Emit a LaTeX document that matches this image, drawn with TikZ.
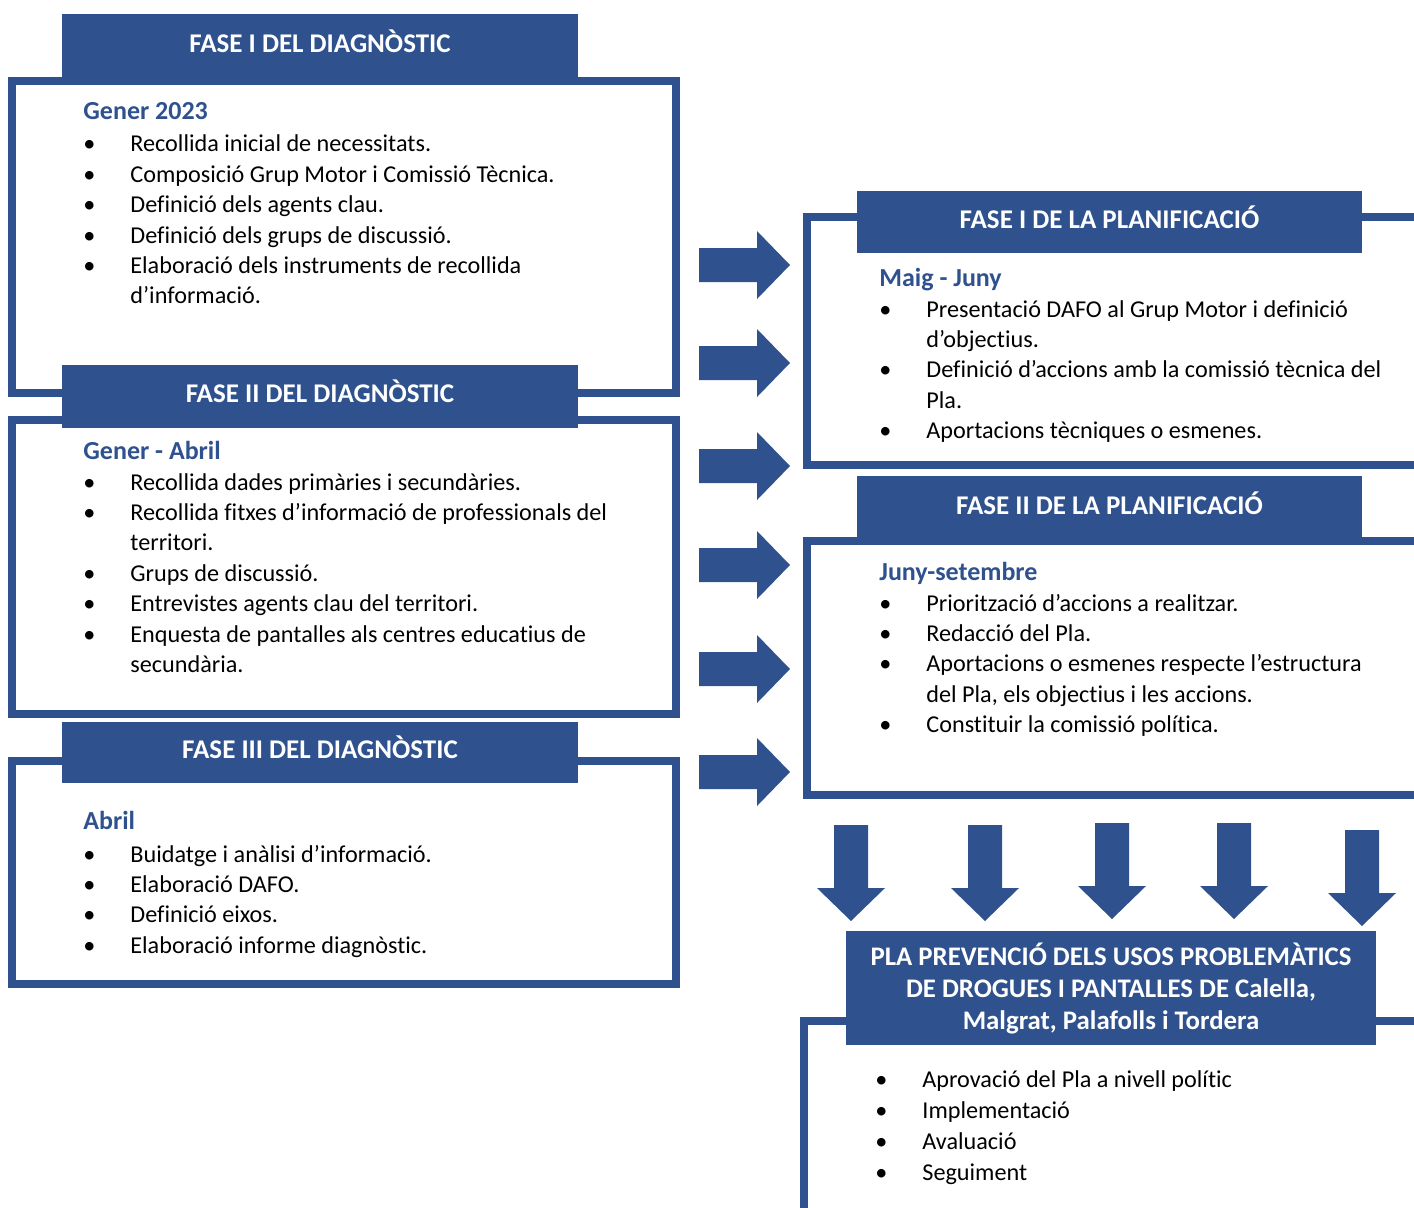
\documentclass[tikz,border=0pt]{standalone}
\usepackage{fontspec}
\setmainfont{Carlito}[Ligatures={NoCommon,NoRare,NoContextual}]
\usepackage{xcolor}
\definecolor{fase}{HTML}{2F528F}
\newcommand\itm{\makebox[23.5pt][l]{\textbullet}}
\newcommand\cont{\hspace*{23.5pt}}
\newcommand\subhd[1]{\textcolor{fase}{\fontsize{13}{15.2}\selectfont\bfseries #1}}
\tikzset{
  frame/.style = {draw=fase, line width=4pt},
  header/.style = {fill=fase, text=white, inner sep=0, align=center,
    text height=8.7pt, text depth=2.5pt,
    font=\fontsize{13.5}{16}\selectfont\bfseries},
  body/.style = {anchor=north west, inner sep=0, align=left,
    font=\fontsize{12.1}{15.2}\selectfont},
  rarrow/.pic = {\fill[fase] (0,0) -- (-33,-34) -- (-33,-17) -- (-91,-17)
    -- (-91,17) -- (-33,17) -- (-33,34) -- cycle;},
  darrow/.pic = {\fill[fase] (0,0) -- (-34,-33) -- (-17,-33) -- (-17,-96)
    -- (17,-96) -- (17,-33) -- (34,-33) -- cycle;}
}

\begin{document}
\begin{tikzpicture}[x=0.5pt, y=-0.5pt]
  \useasboundingbox (0,0) rectangle (1414,1207);
  \clip (0,0) rectangle (1414,1207);

  % frames
  \draw[frame] (12,81) rectangle (676,393);
  \draw[frame] (12,420) rectangle (676,714);
  \draw[frame] (12,761) rectangle (676,984);
  \draw[frame] (807,217) rectangle (1430,465);
  \draw[frame] (807,541) rectangle (1430,795);
  \draw[frame] (804,1021) rectangle (1430,1240);

  % headers
  \node[header, minimum width=258pt, minimum height=32pt] (hd1) at (320,46) {FASE I DEL DIAGN\`OSTIC};
  \node[header, minimum width=258pt, minimum height=31.5pt] (hd2) at (320,396.5) {FASE II DEL DIAGN\`OSTIC};
  \node[header, minimum width=258pt, minimum height=30.5pt] (hd3) at (320,752.5) {FASE III DEL DIAGN\`OSTIC};
  \node[header, minimum width=252.5pt, minimum height=31pt] (hdp1) at (1109.5,222) {FASE I DE LA PLANIFICACI\'O};
  \node[header, minimum width=252.5pt, minimum height=32pt] (hdp2) at (1109.5,508) {FASE II DE LA PLANIFICACI\'O};
  \node[header, text height=, text depth=, minimum width=265pt, minimum height=57pt,
    font=\fontsize{13.4}{16}\selectfont\bfseries] (hdpla) at (1111,988)
    {PLA PREVENCIÓ DELS USOS PROBLEMÀTICS\\DE DROGUES I PANTALLES DE Calella,\\Malgrat, Palafolls i Tordera};

  % arrows
  \pic (ra1) at (790,265) {rarrow};
  \pic (ra2) at (790,363) {rarrow};
  \pic (ra3) at (790,466) {rarrow};
  \pic (ra4) at (790,565) {rarrow};
  \pic (ra5) at (790,669) {rarrow};
  \pic (ra6) at (790,772) {rarrow};
  \pic (da1) at (851,921) {darrow};
  \pic (da2) at (985,921) {darrow};
  \pic (da3) at (1112,919) {darrow};
  \pic (da4) at (1234,919) {darrow};
  \pic (da5) at (1362,926) {darrow};

  % texts
  \node[body] (bd1) at (83,102) {\subhd{Gener 2023}\\[1pt]
    \itm Recollida inicial de necessitats.\\
    \itm Composició Grup Motor i Comissió Tècnica.\\
    \itm Definició dels agents clau.\\
    \itm Definició dels grups de discussió.\\
    \itm Elaboració dels instruments de recollida\\
    \cont d’informació.};
  \node[body] (bd2) at (83,441) {\subhd{Gener - Abril}\\
    \itm Recollida dades primàries i secundàries.\\
    \itm Recollida fitxes d’informació de professionals del\\
    \cont territori.\\
    \itm Grups de discussió.\\
    \itm Entrevistes agents clau del territori.\\
    \itm Enquesta de pantalles als centres educatius de\\
    \cont secundària.};
  \node[body] (bd3) at (83,811) {\subhd{Abril}\\[1pt]
    \itm Buidatge i anàlisi d’informació.\\
    \itm Elaboració DAFO.\\
    \itm Definició eixos.\\
    \itm Elaboració informe diagnòstic.};
  \node[body] (bdp1) at (879,268) {\subhd{Maig - Juny}\\
    \itm Presentació DAFO al Grup Motor i definició\\
    \cont d’objectius.\\
    \itm Definició d’accions amb la comissió tècnica del\\
    \cont Pla.\\
    \itm Aportacions tècniques o esmenes.};
  \node[body] (bdp2) at (879,562) {\subhd{Juny-setembre}\\
    \itm Priorització d’accions a realitzar.\\
    \itm Redacció del Pla.\\
    \itm Aportacions o esmenes respecte l’estructura\\
    \cont del Pla, els objectius i les accions.\\
    \itm Constituir la comissió política.};
  \node[body, font=\fontsize{12.1}{15.6}\selectfont] (bdpla) at (875,1070) {\itm Aprovació del Pla a nivell polític\\
    \itm Implementació\\
    \itm Avaluació\\
    \itm Seguiment};
\end{tikzpicture}
\end{document}
